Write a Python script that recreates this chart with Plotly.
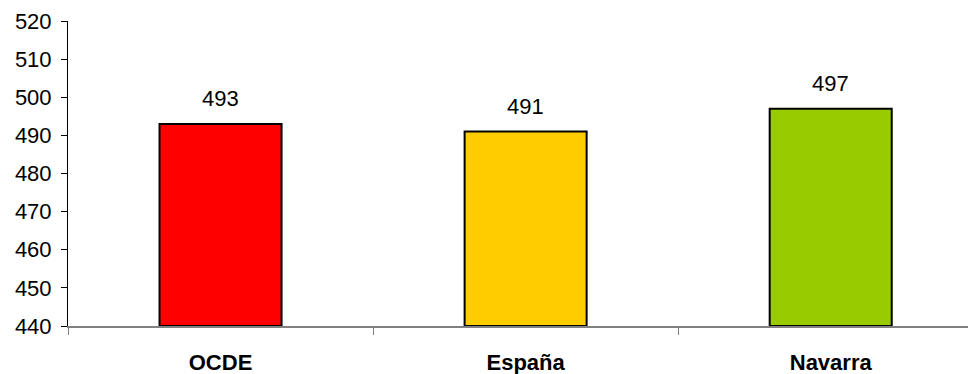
import plotly.graph_objects as go

categories = ["OCDE", "España", "Navarra"]
values = [493, 491, 497]
colors = ["#FF0000", "#FFCC00", "#99CC00"]
y_ticks = [440, 450, 460, 470, 480, 490, 500, 510, 520]

FONT = "Arial, Liberation Sans, sans-serif"

fig = go.Figure()
fig.add_trace(go.Bar(
    x=categories, y=[v - 440 for v in values], base=440,
    width=0.4,
    marker=dict(color=colors, line=dict(color="black", width=2)),
    hoverinfo="skip",
))

for c, v in zip(categories, values):
    fig.add_annotation(x=c, y=v, text=str(v), showarrow=False,
                       yanchor="bottom", yshift=11,
                       font=dict(family=FONT, size=22, color="black"))

fig.update_layout(
    width=968, height=374,
    margin=dict(l=68, r=0, t=21, b=48),
    paper_bgcolor="white", plot_bgcolor="white",
    showlegend=False,
    font=dict(family=FONT, size=22, color="black"),
)
fig.update_xaxes(
    type="category", range=[-0.5, 2.45],
    showline=True, linecolor="#808080", linewidth=2,
    ticks="outside", tickson="boundaries", ticklen=7, tickcolor="#808080", tickwidth=1,
    showgrid=False, zeroline=False,
    tickfont=dict(family=FONT, size=22, color="black", weight="bold"),
    ticklabelstandoff=16,
)
fig.update_yaxes(
    range=[440, 520], tickvals=y_ticks,
    showline=True, linecolor="black", linewidth=1,
    ticks="outside", ticklen=6, tickcolor="black",
    showgrid=False, zeroline=False,
    tickfont=dict(family=FONT, size=22, color="black"),
    ticklabelstandoff=5,
)

fig.write_html("out.html",
               config={"displayModeBar": False},
               post_script="document.body.style.margin='0';document.body.style.overflow='hidden';")
